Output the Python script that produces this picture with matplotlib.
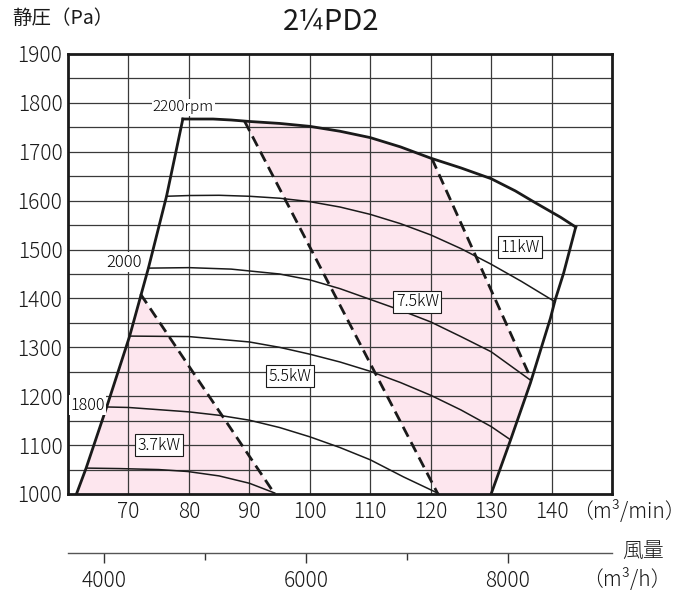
import numpy as np
import matplotlib
matplotlib.use('Agg')
import matplotlib.pyplot as plt
from matplotlib.ticker import FixedLocator, NullFormatter

plt.rcParams['font.family'] = ['Noto Sans CJK JP', 'DejaVu Sans']
plt.rcParams['font.weight'] = 'light'

# air volume (m3/min) and static pressure (Pa)
left_q = [61.4, 63.0, 66.4, 70.2, 73.3, 76.3, 79.0]
left_p = [1000, 1053, 1178, 1323, 1462, 1609, 1767]

top_q = [79.0, 84.0, 87.0, 90.0, 95.0, 100.0, 105.0, 110.0, 115.0, 120.0, 125.0,
         130.0, 134.0, 137.0, 141.5, 144.0]
top_p = [1767, 1767, 1765, 1762, 1758, 1752, 1742, 1729, 1710, 1687, 1667,
         1645, 1620, 1598, 1566, 1546]

right_q = [144.0, 142.0, 140.6, 139.8, 136.5, 133.2, 130.0]
right_p = [1546, 1452, 1397, 1359, 1227, 1110, 1000]

n1700_q = [63.0, 68.5, 75.0, 79.8, 85.0, 90.0, 94.2]
n1700_p = [1053, 1052, 1050, 1046, 1037, 1022, 1002]
n1800_q = [66.4, 70.0, 80.0, 85.0, 90.0, 95.0, 100.0, 105.0, 110.0, 115.5, 121.3]
n1800_p = [1178, 1177, 1168, 1161, 1151, 1136, 1117, 1095, 1070, 1035, 1001]
n1900_q = [70.2, 80.0, 90.0, 95.0, 100.0, 105.0, 110.0, 115.0, 120.0, 125.0, 130.0, 133.2]
n1900_p = [1323, 1322, 1311, 1300, 1286, 1270, 1251, 1228, 1202, 1172, 1138, 1111]
n2000_q = [73.3, 80.0, 87.0, 95.0, 100.0, 105.0, 110.0, 115.0, 120.0, 125.0, 130.0, 136.5]
n2000_p = [1462, 1463, 1460, 1450, 1438, 1420, 1398, 1376, 1352, 1322, 1291, 1233]
n2100_q = [76.3, 80.0, 85.0, 90.0, 95.0, 100.0, 105.0, 110.0, 115.0, 120.0, 125.0,
           130.0, 135.0, 140.6]
n2100_p = [1609, 1610.5, 1611, 1609, 1605, 1598, 1587, 1572, 1553, 1530, 1502,
           1470, 1435, 1393]

# motor power limit lines
d37_q = [72.0, 94.2]
d37_p = [1409, 1000]
d75a_q = [89.2, 121.2]
d75b_q = [120.2, 136.7]
d75b_end_p = 1233

x_ticks = [70, 80, 90, 100, 110, 120, 130, 140]
y_ticks = list(range(1000, 1901, 100))
h_ticks = [4000, 6000, 8000]
h_minor = [5000, 7000]

W, H = 694, 595
fig = plt.figure(figsize=(W / 100, H / 100), dpi=100)
ax = fig.add_axes([68 / W, (H - 494) / H, (612 - 68) / W, 440 / H])
ax.set_xlim(60, 150)
ax.set_ylim(1000, 1900)

# grid
for x in x_ticks:
    ax.axvline(x, color='#3a3a3a', lw=0.9, zorder=2)
for y in range(1050, 1900, 50):
    ax.axhline(y, color='#3a3a3a', lw=0.9, zorder=2)

# pink regions
pink = '#fde6ee'
lq, lp = np.array(left_q), np.array(left_p)
m = lp < d37_p[0]
poly37_q = list(lq[m]) + [d37_q[0], d37_q[1]]
poly37_p = list(lp[m]) + [d37_p[0], d37_p[1]]
ax.fill(poly37_q, poly37_p, color=pink, lw=0, zorder=1)

tq, tp = np.array(top_q), np.array(top_p)
pa = np.interp(d75a_q[0], tq, tp)
pb = np.interp(d75b_q[0], tq, tp)
mt = (tq > d75a_q[0]) & (tq < d75b_q[0])
rq, rp = np.array(right_q), np.array(right_p)
mr = rp < d75b_end_p
poly75_q = [d75a_q[0]] + list(tq[mt]) + [d75b_q[0], d75b_q[1]] + list(rq[mr]) + [d75a_q[1]]
poly75_p = [pa] + list(tp[mt]) + [pb, d75b_end_p] + list(rp[mr]) + [1000]
ax.fill(poly75_q, poly75_p, color=pink, lw=0, zorder=1)

# speed curves
for q, p in [(n1700_q, n1700_p), (n1800_q, n1800_p), (n1900_q, n1900_p),
             (n2000_q, n2000_p), (n2100_q, n2100_p)]:
    ax.plot(q, p, color='#1a1a1a', lw=1.1, zorder=3)

# dashed power lines
dash = dict(color='#1a1a1a', lw=2.0, dashes=(4, 2.2), zorder=4)
ax.plot(d37_q, d37_p, **dash)
ax.plot(d75a_q, [pa, 1000], **dash)
ax.plot(d75b_q, [pb, d75b_end_p], **dash)

# operating boundary
ax.plot(left_q, left_p, color='#1a1a1a', lw=2.0, zorder=5, solid_joinstyle='miter')
ax.plot(top_q, top_p, color='#1a1a1a', lw=2.0, zorder=5)
ax.plot(right_q, right_p, color='#1a1a1a', lw=2.0, zorder=5)

# labels
wbg = dict(facecolor='white', edgecolor='none', pad=1)
ax.text(79.1, 1791, '2200rpm', fontsize=11, ha='center', va='center', bbox=wbg, zorder=6)
ax.text(69.2, 1474, '2000', fontsize=12, ha='center', va='center', bbox=wbg, zorder=6)
ax.text(63.2, 1182, '1800', fontsize=11.5, ha='center', va='center', bbox=wbg, zorder=6)
box = dict(facecolor='white', edgecolor='#1a1a1a', lw=0.8, pad=1.8)
for s, x, y in [('3.7kW', 75.1, 1100), ('5.5kW', 96.7, 1241),
                ('7.5kW', 117.8, 1393), ('11kW', 134.8, 1505)]:
    ax.text(x, y, s, fontsize=11.5, ha='center', va='center', bbox=box, zorder=6)

ax.set_xticks(x_ticks)
ax.set_yticks(y_ticks)
ax.tick_params(length=0, labelsize=15, colors='#1a1a1a')
ax.tick_params(axis='x', pad=5)
ax.tick_params(axis='y', pad=4)
for s in ax.spines.values():
    s.set_linewidth(2.0)
    s.set_color('#1a1a1a')

fig.text(572 / W, 1 - 511 / H, '（m³/min）', fontsize=15, ha='left', va='center', color='#1a1a1a')
fig.text(12 / W, 1 - 18 / H, '静圧（Pa）', fontsize=14, ha='left', va='center',
         color='#1a1a1a', fontweight='normal')
fig.text(331 / W, 1 - 22 / H, '2¼PD2', fontsize=21, ha='center', va='center',
         color='#1a1a1a', fontweight='normal')

# m3/h scale
ax2 = fig.add_axes([68 / W, (H - 553) / H, (612 - 68) / W, 0.0001])
ax2.set_xlim(3640, 9030)
ax2.set_yticks([])
for k in ['left', 'right', 'top']:
    ax2.spines[k].set_visible(False)
ax2.spines['bottom'].set_color('#555555')
ax2.spines['bottom'].set_linewidth(1.0)
ax2.set_xticks(h_ticks)
ax2.xaxis.set_minor_locator(FixedLocator(h_minor))
ax2.xaxis.set_minor_formatter(NullFormatter())
ax2.tick_params(axis='x', which='major', length=7, width=1, color='#333333',
                labelsize=15, pad=5, labelcolor='#1a1a1a')
ax2.tick_params(axis='x', which='minor', length=5, width=1, color='#333333')
ax2.patch.set_visible(False)

fig.text(622 / W, 1 - 551 / H, '風量', fontsize=15, ha='left', va='center', color='#1a1a1a')
fig.text(582 / W, 1 - 580 / H, '（m³/h）', fontsize=15, ha='left', va='center', color='#1a1a1a')

fig.savefig('out.png', dpi=100)
